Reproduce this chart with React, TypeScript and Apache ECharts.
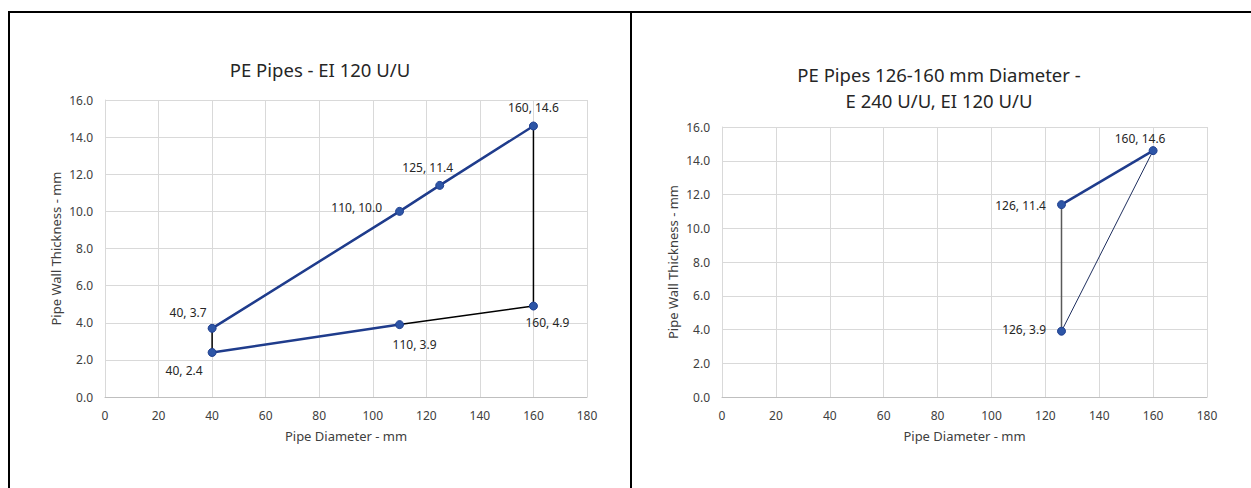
import React, { useEffect, useRef } from "react";
import * as echarts from "echarts";

// ---- data ----
const xTicksMax = 180;
const yTicksMax = 16;

const leftTitle = "PE Pipes - EI 120 U/U";
const rightTitle = "PE Pipes 126-160 mm Diameter -\nE 240 U/U, EI 120 U/U";
const xName = "Pipe Diameter - mm";
const yName = "Pipe Wall Thickness - mm";

const leftUpper: number[][] = [[40, 3.7], [110, 10.0], [125, 11.4], [160, 14.6]];
const leftLower: number[][] = [[40, 2.4], [110, 3.9]];
const leftEdgeRight: number[][] = [[160, 14.6], [160, 4.9], [110, 3.9]];
const leftEdgeLeft: number[][] = [[40, 2.4], [40, 3.7]];
const leftPoints: number[][] = [[40, 3.7], [110, 10.0], [125, 11.4], [160, 14.6], [40, 2.4], [110, 3.9], [160, 4.9]];

const rightUpper: number[][] = [[126, 11.4], [160, 14.6]];
const rightVertical: number[][] = [[126, 11.4], [126, 3.9]];
const rightDiagonal: number[][] = [[126, 3.9], [160, 14.6]];
const rightPoints: number[][] = [[126, 11.4], [126, 3.9], [160, 14.6]];

// label placement (style only)
const leftLabelPos: any[] = [
  { position: "left", offset: [4, -16] },
  { position: "left", offset: [-8, -4] },
  { position: "top", offset: [-12, -2] },
  { position: "top", offset: [0, -3] },
  { position: "left", offset: [0, 18] },
  { position: "bottom", offset: [15, 4] },
  { position: "bottom", offset: [14, 1] },
];
const rightLabelPos: any[] = [
  { position: "left", offset: [-6, 1] },
  { position: "left", offset: [-6, -2] },
  { position: "top", offset: [-13, 3] },
];

const FONT = "'Noto Sans', sans-serif";
const BLUE = "#1f3c8c";
const MARK = "#2d55a6";

function axisPair(gridIndex: number) {
  const common = {
    gridIndex,
    type: "value" as const,
    min: 0,
    nameLocation: "middle" as const,
    nameTextStyle: { fontFamily: FONT, fontSize: 13, color: "#404040" },
    axisLabel: { fontFamily: FONT, fontSize: 12, color: "#404040" },
    axisTick: { show: false },
    splitLine: { show: true, lineStyle: { color: "#d9d9d9", width: 1 } },
  };
  return {
    x: {
      ...common,
      max: xTicksMax,
      interval: 20,
      name: xName,
      nameGap: 32,
      axisLabel: { ...common.axisLabel, margin: 12 },
      axisLine: { show: true, lineStyle: { color: "#bfbfbf", width: 1 } },
    },
    y: {
      ...common,
      max: yTicksMax,
      interval: 2,
      name: yName,
      nameGap: 43,
      axisLabel: { ...common.axisLabel, margin: 12, formatter: (v: number) => v.toFixed(1) },
      axisLine: { show: true, lineStyle: { color: "#d9d9d9", width: 1 } },
    },
  };
}

function lineSeries(idx: number, data: number[][], color: string, width: number, z = 2) {
  return {
    type: "line",
    xAxisIndex: idx,
    yAxisIndex: idx,
    data,
    symbol: "none",
    lineStyle: { color, width },
    z,
    silent: true,
  };
}

function pointSeries(idx: number, data: number[][], pos: any[]) {
  return {
    type: "scatter",
    xAxisIndex: idx,
    yAxisIndex: idx,
    symbolSize: 8,
    z: 5,
    itemStyle: { color: MARK, borderColor: "#1f3f8f", borderWidth: 1, opacity: 1 },
    data: data.map((d, i) => ({
      value: d,
      label: {
        show: true,
        position: pos[i].position,
        offset: pos[i].offset,
        distance: 5,
        fontFamily: FONT,
        fontSize: 12,
        color: "#262626",
        formatter: () => `${d[0]}, ${d[1].toFixed(1)}`,
      },
    })),
  };
}

export default function App() {
  const ref = useRef<HTMLDivElement>(null);
  useEffect(() => {
    if (!ref.current) return;
    const chart = echarts.init(ref.current, null, { renderer: "svg" });
    const a0 = axisPair(0);
    const a1 = axisPair(1);
    chart.setOption({
      animation: false,
      backgroundColor: "#ffffff",
      title: [
        {
          text: leftTitle,
          left: 315,
          top: 55,
          textAlign: "center",
          textStyle: { fontFamily: FONT, fontSize: 18.5, fontWeight: "normal", color: "#262626" },
        },
        {
          text: rightTitle,
          left: 934,
          top: 56,
          textAlign: "center",
          textStyle: { fontFamily: FONT, fontSize: 18.5, fontWeight: "normal", color: "#262626", lineHeight: 26 },
        },
      ],
      grid: [
        { left: 105, right: 664, top: 100, bottom: 91 },
        { left: 722, right: 44, top: 127, bottom: 91 },
      ],
      xAxis: [a0.x, a1.x],
      yAxis: [a0.y, a1.y],
      series: [
        lineSeries(0, leftEdgeRight, "#000000", 1.5),
        lineSeries(0, leftEdgeLeft, "#000000", 1.5),
        lineSeries(0, leftUpper, BLUE, 2.5, 3),
        lineSeries(0, leftLower, BLUE, 2.5, 3),
        pointSeries(0, leftPoints, leftLabelPos),
        lineSeries(1, rightVertical, "#595959", 1.5),
        lineSeries(1, rightDiagonal, "#1f2f5f", 1),
        lineSeries(1, rightUpper, BLUE, 2.5, 3),
        pointSeries(1, rightPoints, rightLabelPos),
      ],
      graphic: [
        { type: "line", shape: { x1: 8, y1: 12, x2: 1251, y2: 12 }, style: { stroke: "#000", lineWidth: 2 }, z: 10 },
        { type: "line", shape: { x1: 9, y1: 11, x2: 9, y2: 488 }, style: { stroke: "#000", lineWidth: 2 }, z: 10 },
        { type: "line", shape: { x1: 631, y1: 11, x2: 631, y2: 488 }, style: { stroke: "#000", lineWidth: 2 }, z: 10 },
      ],
    });
    return () => chart.dispose();
  }, []);
  return (
    <div
      ref={ref}
      style={{ position: "absolute", left: 0, top: 0, width: 1251, height: 488 }}
    />
  );
}
